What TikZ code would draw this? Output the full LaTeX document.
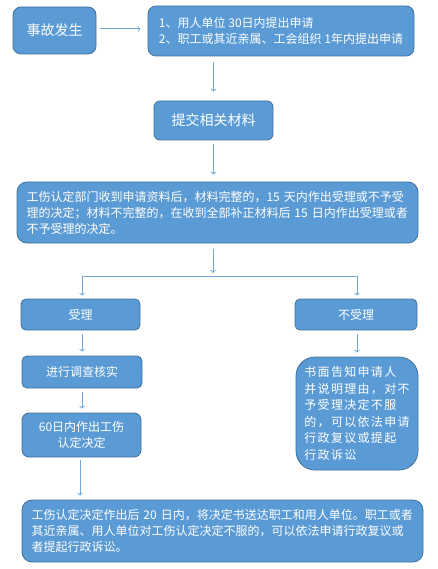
\documentclass[tikz,border=0pt]{standalone}
\usepackage{fontspec}
\setmainfont{Noto Sans CJK SC}
\newfontfamily\spacedcjk[LetterSpace=11]{Noto Sans CJK SC}
\usetikzlibrary{arrows, positioning, calc}
\definecolor{boxfill}{HTML}{5B9BD5}
\definecolor{boxline}{HTML}{41719C}
\definecolor{flowline}{HTML}{70A8DC}
\tikzstyle{step box} = [draw=boxline, fill=boxfill, line width=0.8pt, text=white, inner sep=0pt, font=\fontsize{12}{16}\selectfont]
\tikzstyle{flow} = [->, draw=flowline, line width=1pt, shorten <=4pt, shorten >=4pt]

\begin{document}
\begin{tikzpicture}[x=1pt, y=-1pt]
		\useasboundingbox (0, 0) rectangle (438, 569);
		\coordinate (accident) at (54.5,  30.5);
		\coordinate (apply)    at (281,   31);
		\coordinate (submit)   at (213.5, 120.5);
		\coordinate (review)   at (217.5, 212.5);
		\coordinate (accept)   at (80.5,  314.5);
		\coordinate (reject)   at (356,   314.5);
		\coordinate (survey)   at (82,    372);
		\coordinate (decide)   at (81.5,  435);
		\coordinate (notify)   at (357,   413.5);
		\coordinate (deliver)  at (222.5, 531);
		\coordinate (split)    at (213,   276);
		\coordinate (splitL)   at (82,    276);
		\coordinate (splitR)   at (357,   276);

		\node[step box, minimum width=83, minimum height=47, rounded corners=8, font=\fontsize{14}{18}\selectfont] (EVT) at (accident) {事故发生};
		\node[step box, minimum width=266, minimum height=50, rounded corners=8, align=left] (APP) at (apply) {1、用人单位 30日内提出申请\\2、职工或其近亲属、工会组织 1年内提出申请};
		\node[step box, minimum width=119, minimum height=39, rounded corners=6, font=\fontsize{14}{18}\selectfont] (DOC) at (submit) {提交相关材料};
		\node[step box, minimum width=401, minimum height=61, rounded corners=10, text width=382, align=left] (REV) at (review) {工伤认定部门收到申请资料后，材料完整的，15 天内作出受理或不予受\\理的决定；材料不完整的，在收到全部补正材料后 15 日内作出受理或者\\不予受理的决定。};
		\node[step box, minimum width=119, minimum height=31, rounded corners=5] (ACC) at (accept) {受理};
		\node[step box, minimum width=122, minimum height=31, rounded corners=5] (REJ) at (reject) {不受理};
		\node[step box, minimum width=120, minimum height=32, rounded corners=5] (INV) at (survey) {进行调查核实};
		\node[step box, minimum width=119, minimum height=44, rounded corners=7, align=center] (DEC) at (decide) {60日内作出工伤\\认定决定};
		\node[step box, minimum width=122, minimum height=113, rounded corners=19, align=left, font=\fontsize{12}{16.5}\spacedcjk] (NOT) at (notify) {书面告知申请人\\并说明理由，对不\\予受理决定不服\\的，可以依法申请\\行政复议或提起\\行政诉讼};
		\node[step box, minimum width=401, minimum height=62, rounded corners=10, text width=382, align=left] (RES) at (deliver) {工伤认定决定作出后 20 日内，将决定书送达职工和用人单位。职工或者\\其近亲属、用人单位对工伤认定决定不服的，可以依法申请行政复议或\\者提起行政诉讼。};

		\draw[flow, shorten >=7pt] (EVT.east |- 0, 29) -- (APP.west |- 0, 29);
		\draw[flow, shorten <=6pt, shorten >=9pt] (APP.south -| DOC) -- (DOC.north);
		\draw[flow, shorten >=7pt] (DOC.south) -- (REV.north -| DOC);
		\draw[flow, shorten <=6pt, shorten >=3pt] (REV.south -| split) -- (split);
		\draw[draw=flowline, line width=1pt] (splitL) -- (splitR);
		\draw[flow, shorten <=0pt, shorten >=3pt] (splitL) -- (splitL |- ACC.north);
		\draw[flow, shorten <=0pt, shorten >=3pt] (splitR) -- (splitR |- REJ.north);
		\draw[flow] (ACC.south -| splitL) -- (INV.north -| splitL);
		\draw[flow] (INV.south -| splitL) -- (DEC.north -| splitL);
		\draw[flow, shorten <=3pt] (DEC.south -| 80, 0) -- (RES.north -| 80, 0);
		\draw[flow] (REJ.south -| splitR) -- (NOT.north -| splitR);

	\end{tikzpicture}
\end{document}
